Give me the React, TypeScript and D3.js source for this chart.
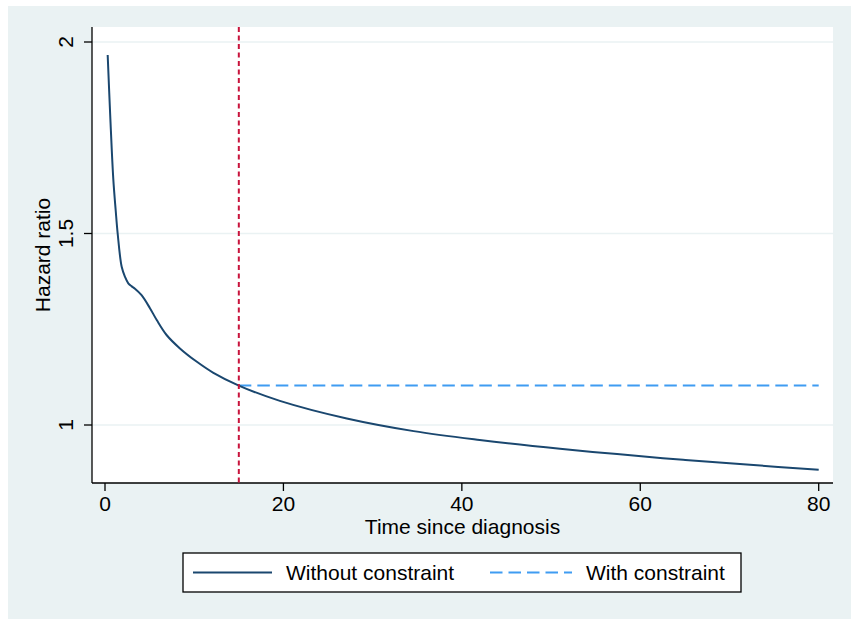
import React from "react";
import * as d3 from "d3";

const timePoints = [0.3, 0.6, 0.93, 1.2, 1.42, 1.87, 2.24, 2.61, 3.0, 3.36, 4.1, 5.04, 5.8, 6.9, 8.4, 10.3, 12.1, 15, 19.6, 27.1, 34.6, 42, 51, 57.4, 64.8, 72.3, 80];
const hazardWithout = [1.966, 1.8, 1.642, 1.56, 1.5, 1.413, 1.387, 1.37, 1.362, 1.356, 1.339, 1.305, 1.274, 1.235, 1.2, 1.165, 1.137, 1.103, 1.063, 1.017, 0.984, 0.961, 0.938, 0.924, 0.909, 0.896, 0.883];
const constraintTime = [15, 80];
const constraintValue = 1.103;
const cutTime = 15;
const xTicks = [0, 20, 40, 60, 80];
const yTicks = [1, 1.5, 2];
const yTickLabels = ["1", "1.5", "2"];
const legendLabels = ["Without constraint", "With constraint"];

const W = 851;
const H = 619;
const plot = { left: 92, right: 833, top: 27, bottom: 483 };
const FONT = "'Liberation Sans', Arial, sans-serif";

export default function App() {
  const x = d3.scaleLinear().domain([0, 80]).range([105, 818.7]);
  const y = d3.scaleLinear().domain([1, 2]).range([425, 42]);

  const line = d3
    .line<number>()
    .x((_, i) => x(timePoints[i]))
    .y((d) => y(d))
    .curve(d3.curveCatmullRom.alpha(0.5));

  const mainPath = line(hazardWithout) || "";

  return (
    <div style={{ position: "absolute", left: 0, top: 0 }}>
      <svg width={W} height={H} style={{ display: "block" }} fontFamily={FONT}>
        <rect x={0} y={0} width={W} height={H} fill="#ffffff" />
        <rect x={8} y={6} width={W - 8} height={H - 6} fill="#eaf2f3" />
        <rect x={plot.left} y={plot.top} width={plot.right - plot.left} height={plot.bottom - plot.top} fill="#ffffff" />
        {yTicks.map((t) => (
          <line key={"g" + t} x1={plot.left} x2={plot.right} y1={y(t)} y2={y(t)} stroke="#eaf2f3" strokeWidth={1.5} />
        ))}
        <line x1={plot.left} x2={plot.left} y1={plot.top} y2={plot.bottom} stroke="#000" strokeWidth={1.3} />
        <line x1={plot.left} x2={plot.right} y1={plot.bottom} y2={plot.bottom} stroke="#000" strokeWidth={1.3} />
        {yTicks.map((t, i) => (
          <g key={"yt" + t}>
            <line x1={plot.left - 8} x2={plot.left} y1={y(t)} y2={y(t)} stroke="#000" strokeWidth={1.3} />
            <text
              transform={`translate(73,${y(t)}) rotate(-90)`}
              textAnchor="middle"
              fontSize={21}
              fill="#000"
            >
              {yTickLabels[i]}
            </text>
          </g>
        ))}
        {xTicks.map((t) => (
          <g key={"xt" + t}>
            <line x1={x(t)} x2={x(t)} y1={plot.bottom} y2={plot.bottom + 8} stroke="#000" strokeWidth={1.3} />
            <text x={x(t)} y={511} textAnchor="middle" fontSize={21} fill="#000">
              {t}
            </text>
          </g>
        ))}
        <text
          transform={`translate(50,${(plot.top + plot.bottom) / 2}) rotate(-90)`}
          textAnchor="middle"
          fontSize={21}
          fill="#000"
        >
          Hazard ratio
        </text>
        <text x={(plot.left + plot.right) / 2} y={534} textAnchor="middle" fontSize={21} fill="#000">
          Time since diagnosis
        </text>
        <line
          x1={x(constraintTime[0])}
          x2={x(constraintTime[1])}
          y1={y(constraintValue)}
          y2={y(constraintValue)}
          stroke="#3f9cf2"
          strokeWidth={2}
          strokeDasharray="12.5,6"
        />
        <path d={mainPath} fill="none" stroke="#1a476f" strokeWidth={2} />
        <line
          x1={x(cutTime)}
          x2={x(cutTime)}
          y1={plot.top}
          y2={plot.bottom}
          stroke="#c8143c"
          strokeWidth={2}
          strokeDasharray="5,3.5"
        />
        <rect x={183} y={553} width={558} height={39} fill="#ffffff" stroke="#000" strokeWidth={1.3} />
        <line x1={193} x2={272} y1={572.5} y2={572.5} stroke="#1a476f" strokeWidth={2} />
        <text x={286} y={580} fontSize={21} fill="#000">
          {legendLabels[0]}
        </text>
        <line x1={490} x2={572} y1={572.5} y2={572.5} stroke="#3f9cf2" strokeWidth={2} strokeDasharray="12.5,6" />
        <text x={586} y={580} fontSize={21} fill="#000">
          {legendLabels[1]}
        </text>
      </svg>
    </div>
  );
}
